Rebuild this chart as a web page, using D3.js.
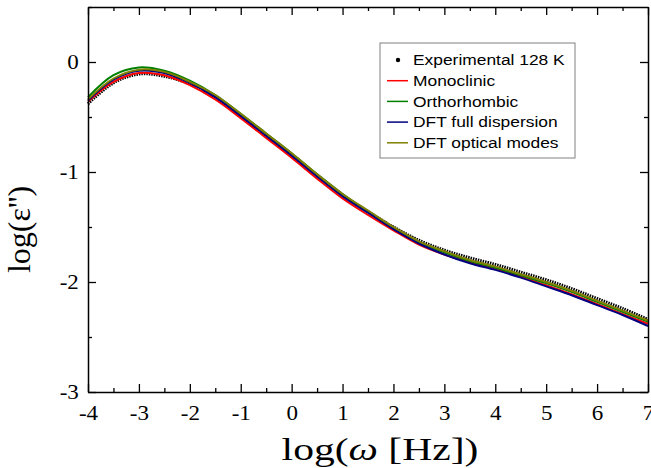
<!DOCTYPE html>
<html>
<head>
<meta charset="utf-8">
<script src="https://cdn.jsdelivr.net/npm/d3@7"></script>
<style>
  body { margin: 0; background: #fff; }
  .tick text { font-family: "Liberation Serif", "Times New Roman", serif; font-size: 20px; }
  .legend text { font-family: "Liberation Sans", Arial, sans-serif; font-size: 14.5px; }
</style>
</head>
<body>
<script>
// log(omega) grid
var logW = [-4, -3.5, -3, -2.5, -2, -1.5, -1, -0.5, 0, 0.5, 1, 1.5, 2, 2.5, 3, 3.5, 4, 4.5, 5, 5.5, 6, 6.5, 7];

var experimental = [-0.38, -0.19, -0.11, -0.13, -0.20, -0.32, -0.49, -0.67, -0.85, -1.03, -1.21, -1.36, -1.50, -1.62, -1.71, -1.78, -1.84, -1.91, -1.98, -2.06, -2.15, -2.24, -2.34];
var monoclinic   = [-0.36, -0.18, -0.10, -0.12, -0.21, -0.34, -0.51, -0.69, -0.87, -1.06, -1.24, -1.39, -1.53, -1.66, -1.75, -1.82, -1.88, -1.95, -2.03, -2.11, -2.20, -2.29, -2.38];
var orthorhombic = [-0.32, -0.12, -0.05, -0.08, -0.17, -0.30, -0.47, -0.65, -0.83, -1.02, -1.20, -1.36, -1.51, -1.64, -1.73, -1.81, -1.87, -1.94, -2.01, -2.09, -2.18, -2.27, -2.36];
var dftFull      = [-0.35, -0.16, -0.08, -0.10, -0.19, -0.32, -0.49, -0.67, -0.85, -1.04, -1.22, -1.37, -1.52, -1.65, -1.75, -1.83, -1.89, -1.96, -2.04, -2.12, -2.21, -2.30, -2.40];
var dftOptical   = [-0.34, -0.15, -0.07, -0.09, -0.18, -0.30, -0.47, -0.65, -0.83, -1.02, -1.20, -1.35, -1.50, -1.63, -1.72, -1.80, -1.86, -1.93, -2.00, -2.08, -2.17, -2.26, -2.35];

var seriesNames = ["Experimental 128 K", "Monoclinic", "Orthorhombic", "DFT full dispersion", "DFT optical modes"];
var seriesColors = ["#000000", "#ff0000", "#008000", "#000080", "#808000"];
var xTicks = [-4, -3, -2, -1, 0, 1, 2, 3, 4, 5, 6, 7];
var yTicks = [-3, -2, -1, 0];

var margin = { top: 7, right: 3, bottom: 76, left: 88 };
var width = 651 - margin.left - margin.right;
var height = 468 - margin.top - margin.bottom;
var stretch = 1.15; // the reference text looks widened

var svg = d3.select("body").append("svg")
    .attr("width", 651)
    .attr("height", 468)
    .append("g")
    .attr("transform", "translate(" + margin.left + "," + margin.top + ")");

var x = d3.scaleLinear().domain([-4, 7]).range([0, width]);
var y = d3.scaleLinear().domain([-3, 0.5]).range([height, 0]);

var halfX = d3.range(-3.5, 7, 1);
var halfY = [-2.5, -1.5, -0.5];

// curves
var allSeries = [experimental, monoclinic, orthorhombic, dftFull, dftOptical];
var line = d3.line()
    .x(function (d, i) { return x(logW[i]); })
    .y(function (d) { return y(d); })
    .curve(d3.curveCatmullRom);

allSeries.forEach(function (s, k) {
    svg.append("path")
        .datum(s)
        .attr("fill", "none")
        .attr("stroke", seriesColors[k])
        .attr("stroke-width", k == 0 ? 3 : 2)
        .attr("stroke-dasharray", k == 0 ? "1.5,1" : null)
        .attr("d", line);
});

// axes, ticks pointing inward on all four sides
function frameAxis(axis, transform, major, minor) {
    var g = svg.append("g").attr("transform", transform)
        .call(axis.tickValues(major).tickSizeInner(-8).tickSizeOuter(0).tickPadding(8));
    g.select(".domain").attr("stroke-width", 1.5);
    g.selectAll(".tick line").attr("stroke-width", 1.3);
    var gm = svg.append("g").attr("transform", transform)
        .call(axis.tickValues(minor).tickSizeInner(-4).tickFormat(""));
    gm.select(".domain").remove();
    gm.selectAll(".tick line").attr("stroke-width", 1.3);
    return g;
}

var fmt = function (d) { return d3.format("d")(d).replace("−", "-"); };
var none = function () { return ""; };

frameAxis(d3.axisBottom(x).tickFormat(fmt), "translate(0," + height + ")", xTicks, halfX)
    .selectAll(".tick text").attr("dy", "1em").attr("transform", "scale(" + stretch + ",1)");
frameAxis(d3.axisTop(x).tickFormat(none), "translate(0,0)", xTicks, halfX)
    .selectAll(".tick text").remove();
frameAxis(d3.axisLeft(y).tickFormat(fmt), "translate(0,0)", yTicks, halfY.concat([0.5]))
    .selectAll(".tick text").attr("transform", "scale(" + stretch + ",1)");
frameAxis(d3.axisRight(y).tickFormat(none), "translate(" + width + ",0)", yTicks, halfY)
    .selectAll(".tick text").remove();

// axis titles
svg.append("text")
    .attr("transform", "translate(" + (width / 2 + 12) + "," + (height + 68) + ") scale(1.3,1)")
    .attr("text-anchor", "middle")
    .style("font-family", "Liberation Serif, serif")
    .style("font-size", "32px")
    .html('log(<tspan font-style="italic">ω</tspan> [Hz])');

svg.append("text")
    .attr("transform", "translate(" + (-58) + "," + (height / 2 + 30) + ") rotate(-90)")
    .attr("text-anchor", "middle")
    .style("font-family", "Liberation Serif, serif")
    .style("font-size", "32px")
    .text("log(ε'')");

// legend
var legend = svg.append("g").attr("class", "legend")
    .attr("transform", "translate(" + (380 - margin.left) + "," + (43 - margin.top) + ")");
legend.append("rect")
    .attr("width", 195).attr("height", 115)
    .attr("fill", "#fff").attr("stroke", "#808080").attr("stroke-width", 1);

seriesNames.forEach(function (name, k) {
    var row = legend.append("g").attr("transform", "translate(0," + (17 + k * 20.7) + ")");
    if (k == 0) {
        row.append("circle").attr("cx", 18).attr("cy", 0).attr("r", 2.2).attr("fill", "#000");
    } else {
        row.append("line").attr("x1", 7).attr("x2", 28).attr("y1", 0).attr("y2", 0)
            .attr("stroke", seriesColors[k]).attr("stroke-width", 1.5);
    }
    row.append("text").attr("transform", "translate(33,0) scale(1.2,1)")
        .attr("dy", "0.36em").text(name);
});
</script>
</body>
</html>
